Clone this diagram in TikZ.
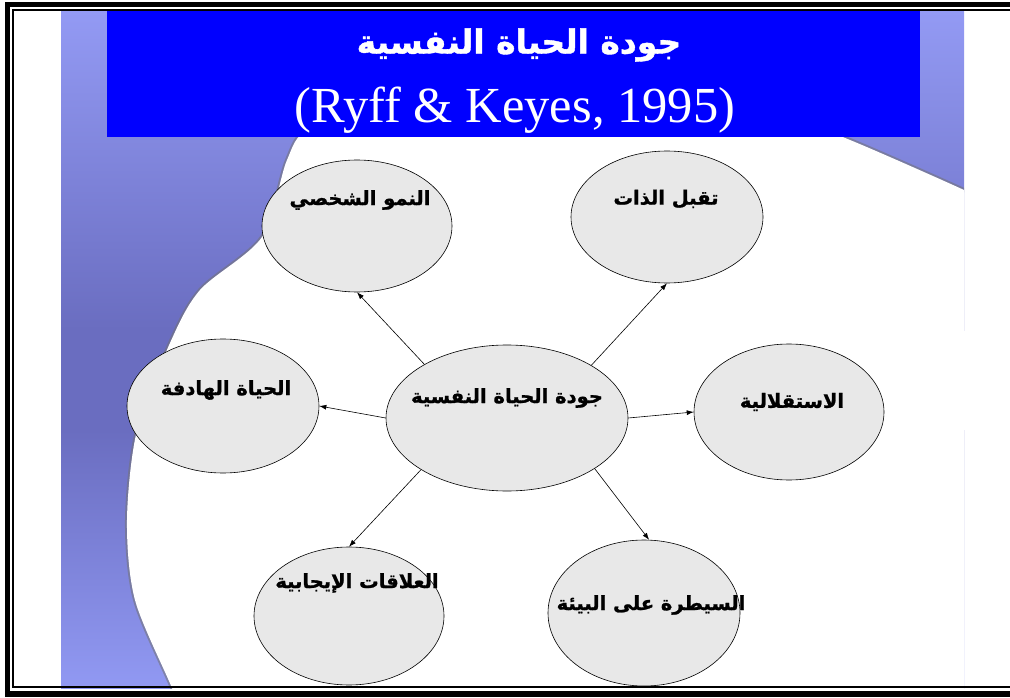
\documentclass[tikz,border=0pt]{standalone}
\usepackage{fontspec}
\setmainfont{Liberation Serif}
\TeXXeTstate=1
\newfontfamily\arabicbf[Script=Arabic,FakeBold=1.2]{DejaVu Sans Bold}
\usetikzlibrary{arrows.meta,shapes.geometric}
\definecolor{panelTop}{HTML}{939AF4}
\definecolor{panelMid}{HTML}{6A6DC0}
\definecolor{panelBot}{HTML}{9199F3}
\definecolor{titleBlue}{HTML}{0000FF}
\definecolor{ellGray}{HTML}{E8E8E8}
\begin{document}
\begin{tikzpicture}[x=1pt,y=-1pt,
  ell/.style={ellipse, draw=black, line width=0.6pt, fill=ellGray, inner sep=0pt},
  lbl/.style={font=\arabicbf\fontsize{19.5}{23}\selectfont, text=black, inner sep=0pt},
  arr/.style={line width=0.6pt, -{Latex[length=7pt,width=5pt]}}]
\useasboundingbox (0,0) rectangle (1010,698);
\fill[white] (0,0) rectangle (1010,698);
% background panel
\begin{scope}
\clip (61,11) rectangle (964,688);
\shade[top color=panelTop, bottom color=panelMid] (61,11) rectangle (964,330);
\fill[panelMid] (61,329) rectangle (964,431);
\shade[top color=panelMid, bottom color=panelBot] (61,430) rectangle (964,688);
\draw[black!55, line width=4pt, opacity=0.55] plot[smooth] coordinates {(192,740) (172,688) (135,600) (127,520) (137,430) (170,343) (200,290) (262,237) (287,160) (310,128) (400,95) (600,82) (780,115) (850,140) (964,190) (1020,218)};
\fill[white] plot[smooth] coordinates {(192,740) (172,688) (135,600) (127,520) (137,430) (170,343) (200,290) (262,237) (287,160) (310,128) (400,95) (600,82) (780,115) (850,140) (964,190) (1020,218)} -- (1020,740) -- cycle;
\end{scope}
% title
\fill[titleBlue] (107,11) rectangle (920,137);
\node[font=\arabicbf\fontsize{33}{38}\selectfont, text=white, inner sep=0pt] (title) at (519,45) {\beginR جودة الحياة النفسية\endR};
\node[font=\fontsize{50.5}{58}\selectfont, text=white, inner sep=0pt, anchor=base] (cite) at (515,123) {(Ryff \& Keyes, 1995)};
% ellipses
\node[ell, minimum width=242pt, minimum height=146pt] (c) at (507,418) {};
\node[ell, minimum width=190pt, minimum height=132pt] (a1) at (357,226) {};
\node[ell, minimum width=192pt, minimum height=132pt] (a2) at (667,217) {};
\node[ell, minimum width=192pt, minimum height=134pt] (a3) at (223,406) {};
\node[ell, minimum width=190pt, minimum height=136pt] (a4) at (789,412) {};
\node[ell, minimum width=190pt, minimum height=138pt] (a5) at (349,616) {};
\node[ell, minimum width=192pt, minimum height=146pt] (a6) at (644,613) {};
% labels
\node[lbl] (ct) at (507,398) {\beginR جودة الحياة النفسية\endR};
\node[lbl] (a1t) at (360,200) {\beginR النمو الشخصي\endR};
\node[lbl] (a2t) at (666,199) {\beginR تقبل الذات\endR};
\node[lbl] (a3t) at (226,390) {\beginR الحياة الهادفة\endR};
\node[lbl] (a4t) at (792,402) {\beginR الاستقلالية\endR};
\node[lbl] (a5t) at (357,583) {\beginR العلاقات الإيجابية\endR};
\node[lbl] (a6t) at (651,605) {\beginR السيطرة على البيئة\endR};
% arrows
\draw[arr] (c.147) -- (a1.south);
\draw[arr] (c.32) -- (a2.south);
\draw[arr] (c.west) -- (a3.east);
\draw[arr] (c.east) -- (a4.west);
\draw[arr] (c.211) -- (a5.north);
\draw[arr] (c.330) -- (a6.86);
% frame
\draw[line width=5.5pt] (7.5,4.5) rectangle (1040,694);
\draw[line width=2pt] (13,10) rectangle (1040,686.5);
\end{tikzpicture}
\end{document}
